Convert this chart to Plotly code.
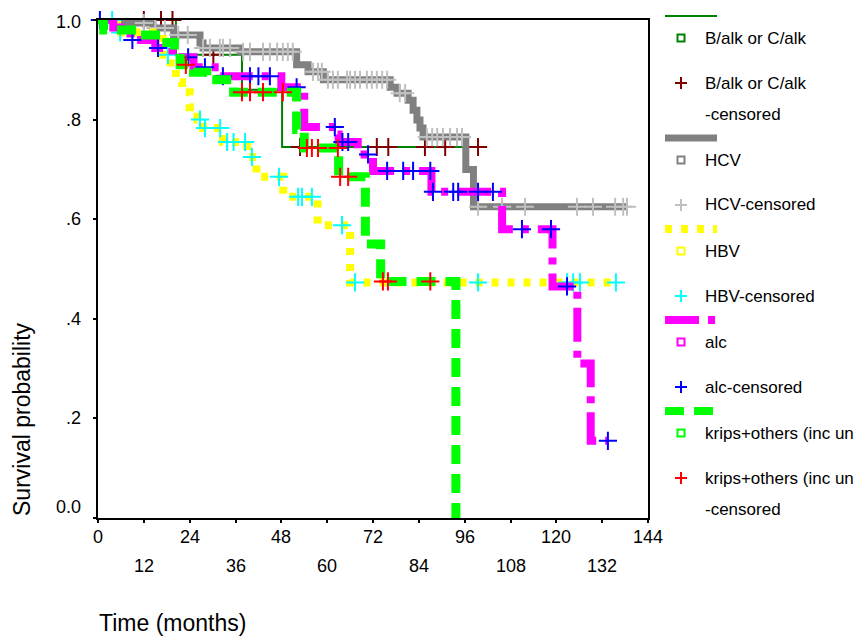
import plotly.graph_objects as go

# ---------------- data (months, survival probability) ----------------
balk_t = [0, 20.4, 37.7, 48.2, 99.5]
balk_s = [1.0, 0.93, 0.86, 0.745, 0.745]
balk_ct = [12, 16.5, 19.5, 30.2, 52.9, 73, 76, 85.6, 90.9, 99.5]
balk_cs = [1.0, 1.0, 1.0, 0.93, 0.745, 0.745, 0.745, 0.745, 0.745, 0.745]

hcv_t = [0, 6.5, 14.4, 19.8, 26.7, 27.5, 37.2, 52, 55, 59, 76.5, 78.3, 81.2,
         82.5, 83.5, 84.3, 85.1, 96.3, 98.3, 138.5]
hcv_s = [1.0, 0.994, 0.984, 0.97, 0.954, 0.944, 0.936, 0.91, 0.896, 0.88, 0.865,
         0.853, 0.839, 0.819, 0.799, 0.783, 0.765, 0.70, 0.625, 0.625]
hcv_ct = [12, 15, 17.5, 21, 23.5, 27.5, 29.3, 31.9, 32.7, 34.6, 38, 39.8, 43.2,
          45, 46.9, 48.4, 49.7, 51, 56.3, 57.6, 58.6, 60.2, 61.5, 62.8, 65.2, 66,
          67.3, 68.6, 70.4, 71.7, 73, 74.4, 75.7, 79, 80.4, 86.1, 87.5, 88.8, 90.3,
          92.2, 94, 95.3, 99.5, 105.8, 111.8, 125.4, 129.6, 135.4, 137.5, 138.5]
hcv_cs = [0.994, 0.984, 0.984, 0.97, 0.97, 0.944, 0.944, 0.944, 0.944, 0.944,
          0.936, 0.936, 0.936, 0.936, 0.936, 0.936, 0.936, 0.936, 0.896, 0.896,
          0.896, 0.88, 0.88, 0.88, 0.88, 0.88, 0.88, 0.88, 0.88, 0.88, 0.88, 0.88,
          0.88, 0.853, 0.853, 0.765, 0.765, 0.765, 0.765, 0.765, 0.765, 0.765,
          0.625, 0.625, 0.625, 0.625, 0.625, 0.625, 0.625, 0.625]

hbv_t = [0, 5, 17, 19, 20.4, 22, 24, 26, 27.5, 32.7, 39, 41.5, 48.5, 57.5, 66, 135.6]
hbv_s = [1.0, 0.975, 0.93, 0.90, 0.875, 0.855, 0.825, 0.80, 0.783, 0.755, 0.725,
         0.685, 0.645, 0.588, 0.473, 0.473]
hbv_ct = [3.7, 5.8, 18.3, 26.7, 28, 32, 33.8, 35.5, 38.5, 40.3, 47.4, 52.4, 53.4,
          56, 63.9, 67.3, 99.5, 122.8, 124.4, 126.2, 135.6]
hbv_cs = [1.0, 0.975, 0.93, 0.80, 0.783, 0.783, 0.755, 0.755, 0.755, 0.725, 0.685,
          0.645, 0.645, 0.645, 0.588, 0.473, 0.473, 0.473, 0.473, 0.473, 0.473]

alc_t = [0, 4, 8.5, 15, 19.5, 25, 32, 48, 54, 62.3, 63, 68, 72, 87.3, 105.8, 119,
         125.5, 129, 133.5]
alc_s = [1.0, 0.985, 0.96, 0.944, 0.925, 0.905, 0.887, 0.865, 0.785, 0.77, 0.755,
         0.73, 0.697, 0.655, 0.58, 0.465, 0.31, 0.155, 0.155]
alc_ct = [0.5, 9, 15.7, 23.6, 28, 32.7, 39.8, 42, 45, 52, 62, 64, 65.5, 70.7, 75.7,
          79.9, 82.5, 87, 87.7, 93, 94.3, 99.5, 103.4, 111, 118.6, 122.8, 133.5]
alc_cs = [1.0, 0.96, 0.944, 0.925, 0.905, 0.887, 0.887, 0.887, 0.887, 0.865, 0.785,
          0.755, 0.755, 0.73, 0.697, 0.697, 0.697, 0.697, 0.655, 0.655, 0.655,
          0.655, 0.655, 0.58, 0.58, 0.465, 0.155]

kr_t = [0, 1.5, 10, 18, 20, 21.5, 25, 28.5, 35.5, 52, 54, 63, 70, 74, 93.7]
kr_s = [1.0, 0.98, 0.97, 0.955, 0.935, 0.91, 0.895, 0.88, 0.855, 0.78, 0.743,
        0.685, 0.55, 0.475, 0.0]
kr_ct = [23, 37.7, 39.8, 43.2, 48.4, 54.7, 56, 57.6, 62.8, 63.4, 65.5, 74.6, 75.9, 87]
kr_cs = [0.91, 0.855, 0.855, 0.855, 0.855, 0.743, 0.743, 0.743, 0.743, 0.685,
         0.685, 0.475, 0.475, 0.475]

x_ticks = [0, 12, 24, 36, 48, 60, 72, 84, 96, 108, 120, 132, 144]
y_ticks = [0.0, 0.2, 0.4, 0.6, 0.8, 1.0]
y_tick_labels = ["0.0", ".2", ".4", ".6", ".8", "1.0"]

series = [
    dict(name="B/alk or C/alk", t=balk_t, s=balk_s, ct=balk_ct, cs=balk_cs,
         color="#008000", width=2, dash="solid", ccolor="#800000",
         cname=["B/alk or C/alk", "-censored"]),
    dict(name="HCV", t=hcv_t, s=hcv_s, ct=hcv_ct, cs=hcv_cs,
         color="#808080", width=7, dash="solid", ccolor="#c0c0c0",
         cname=["HCV-censored"]),
    dict(name="HBV", t=hbv_t, s=hbv_s, ct=hbv_ct, cs=hbv_cs,
         color="#ffff00", width=8, dash="7px,9px", ccolor="#00ffff",
         cname=["HBV-censored"]),
    dict(name="alc", t=alc_t, s=alc_s, ct=alc_ct, cs=alc_cs,
         color="#ff00ff", width=8, dash="34px,9px,7px,9px", ccolor="#0000ff",
         cname=["alc-censored"]),
    dict(name="krips+others (inc un", t=kr_t, s=kr_s, ct=kr_ct, cs=kr_cs,
         color="#00ff00", width=9, dash="19px,10px", ccolor="#ff0000",
         cname=["krips+others (inc un", "-censored"]),
]

FONT = "Liberation Sans, Arial, sans-serif"
W, H = 858, 639
PL, PR, PT, PB = 98, 648, 20, 518


def px(x):
    return (x - PL) / (PR - PL)


def py(y):
    return (PB - y) / (PB - PT)


fig = go.Figure()
for s in series:
    fig.add_trace(go.Scatter(x=s["t"], y=s["s"], mode="lines", line_shape="hv",
                             line=dict(color=s["color"], width=s["width"], dash=s["dash"]),
                             showlegend=False, hoverinfo="skip"))
    fig.add_trace(go.Scatter(x=s["ct"], y=s["cs"], mode="markers", cliponaxis=False,
                             marker=dict(symbol="cross-thin", size=13,
                                         line=dict(color=s["ccolor"], width=2)),
                             showlegend=False, hoverinfo="skip"))

shapes = []
annotations = []

# legend (SPSS style) built from the series list
y = 16
for s in series:
    shapes.append(dict(type="line", xref="paper", yref="paper",
                       x0=px(665), x1=px(717), y0=py(y), y1=py(y),
                       line=dict(color=s["color"], width=min(s["width"], 8), dash=s["dash"])))
    yl = y + 22
    shapes.append(dict(type="rect", xref="paper", yref="paper",
                       x0=px(677.5), x1=px(684.5), y0=py(yl - 3.5), y1=py(yl + 3.5),
                       line=dict(color=s["color"], width=2), fillcolor="rgba(0,0,0,0)"))
    annotations.append(dict(xref="paper", yref="paper", x=px(703), y=py(yl),
                            xanchor="left", yanchor="middle", showarrow=False,
                            text=s["name"], font=dict(family=FONT, size=17, color="#000")))
    yc = yl + 45
    shapes.append(dict(type="line", xref="paper", yref="paper",
                       x0=px(675), x1=px(687), y0=py(yc), y1=py(yc),
                       line=dict(color=s["ccolor"], width=2)))
    shapes.append(dict(type="line", xref="paper", yref="paper",
                       x0=px(681), x1=px(681), y0=py(yc - 6), y1=py(yc + 6),
                       line=dict(color=s["ccolor"], width=2)))
    for k, line_txt in enumerate(s["cname"]):
        annotations.append(dict(xref="paper", yref="paper", x=px(703), y=py(yc + 31 * k),
                                xanchor="left", yanchor="middle", showarrow=False,
                                text=line_txt, font=dict(family=FONT, size=17, color="#000")))
    y = yc + 31 * (len(s["cname"]) - 1) + 24

# y tick labels
for v, lab in zip(y_ticks, y_tick_labels):
    shift = 0
    if v == 0.0:
        shift = 11
    elif v == 1.0:
        shift = -2
    annotations.append(dict(xref="paper", yref="y", x=px(83), y=v, yshift=shift,
                            xanchor="right", yanchor="middle", showarrow=False,
                            text=lab, font=dict(family=FONT, size=18, color="#000")))

# x tick labels (two staggered rows)
for i, v in enumerate(x_ticks):
    row_y = 537 if i % 2 == 0 else 566
    annotations.append(dict(xref="x", yref="paper", x=v, y=py(row_y),
                            xanchor="center", yanchor="middle", showarrow=False,
                            text=str(v), font=dict(family=FONT, size=18, color="#000")))

annotations.append(dict(xref="paper", yref="paper", x=px(97), y=py(638),
                        xanchor="left", yanchor="bottom", showarrow=False,
                        text="Time (months)", font=dict(family=FONT, size=23, color="#000")))
annotations.append(dict(xref="paper", yref="paper", x=px(22), y=py(518),
                        xanchor="center", yanchor="bottom", showarrow=False, textangle=-90,
                        text="Survival probability", font=dict(family=FONT, size=23, color="#000")))

fig.update_layout(
    width=W, height=H, autosize=False,
    margin=dict(l=PL, r=W - PR, t=PT, b=H - PB, pad=0),
    paper_bgcolor="white", plot_bgcolor="white",
    shapes=shapes, annotations=annotations,
    xaxis=dict(range=[0, 144], tickvals=x_ticks, showticklabels=False,
               ticks="outside", ticklen=3, tickwidth=2, tickcolor="black",
               showline=True, linecolor="black", linewidth=2, mirror=True,
               showgrid=False, zeroline=False, fixedrange=True),
    yaxis=dict(range=[0, 1], tickvals=y_ticks, showticklabels=False,
               ticks="outside", ticklen=3, tickwidth=2, tickcolor="black",
               showline=True, linecolor="black", linewidth=2, mirror=True,
               showgrid=False, zeroline=False, fixedrange=True),
    showlegend=False,
)

fig.write_html("out.html")
